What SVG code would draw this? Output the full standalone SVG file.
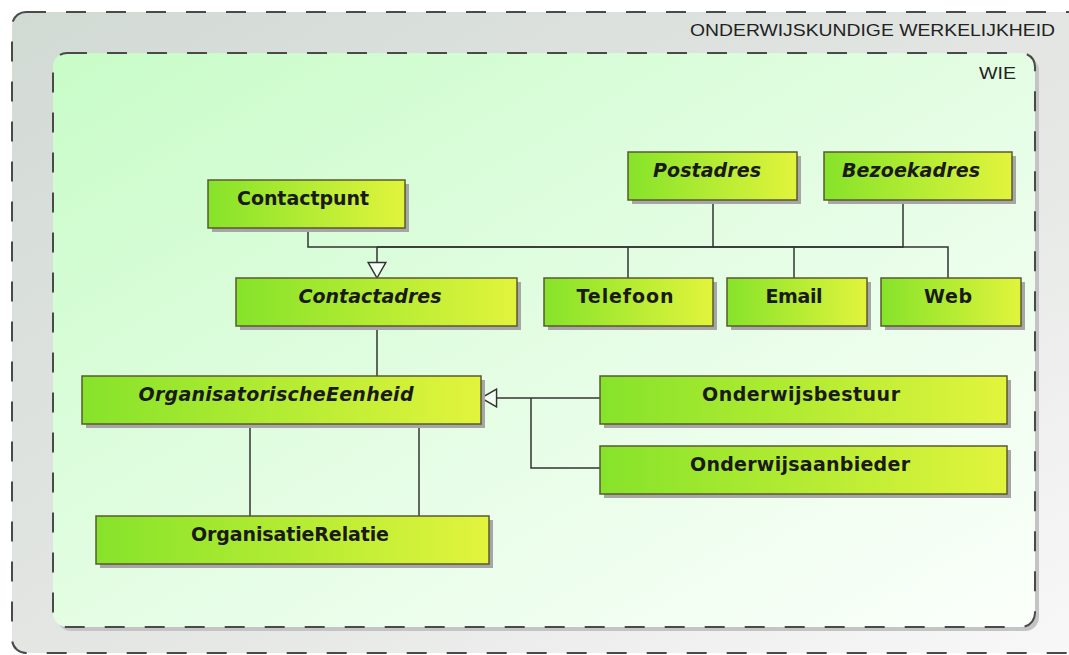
<svg xmlns="http://www.w3.org/2000/svg" width="1069" height="655" viewBox="0 0 1069 655">
<defs>
  <linearGradient id="outerFill" x1="0" y1="0" x2="1" y2="1">
    <stop offset="0" stop-color="#d2dad4"/>
    <stop offset="0.6" stop-color="#e6e8e6"/>
    <stop offset="1" stop-color="#f8f8f8"/>
  </linearGradient>
  <linearGradient id="innerFill" x1="0" y1="0" x2="1" y2="1">
    <stop offset="0" stop-color="#c8fcc8"/>
    <stop offset="0.55" stop-color="#e6fde6"/>
    <stop offset="1" stop-color="#fbfffb"/>
  </linearGradient>
  <linearGradient id="nodeFill" x1="0" y1="0" x2="1" y2="0">
    <stop offset="0" stop-color="#86e32a"/>
    <stop offset="1" stop-color="#e2f43c"/>
  </linearGradient>
  <marker id="gen" markerUnits="userSpaceOnUse" markerWidth="18" markerHeight="20" viewBox="-1 -1 16 18" refX="14" refY="8" orient="auto">
    <path d="M0,0 L14,8 L0,16 Z" fill="#f2fff2" stroke="#333" stroke-width="1.3"/>
  </marker>
</defs>
<style>
  .frame { stroke: #4a4a4a; stroke-width: 2; stroke-dasharray: 20 20; }
  .shadow { fill: #a6a6a6; }
  .box { fill: url(#nodeFill); stroke: #5a5a30; stroke-width: 1.5; }
  .lbl { font-family: "DejaVu Sans", Verdana, sans-serif; font-weight: bold; font-size: 19px; fill: #1a1a1a; text-anchor: middle; }
  .it { font-style: italic; }
  .title { font-family: "Liberation Sans", Arial, sans-serif; font-size: 17px; fill: #222; text-anchor: end; }
  .conn { fill: none; stroke: #333; stroke-width: 1.5; }
</style>

<rect width="1069" height="655" fill="#ffffff"/>

<g id="frame-onderwijskundige-werkelijkheid">
  <rect x="12" y="12" width="1080" height="641" rx="14" fill="url(#outerFill)" class="frame"/>
  <text class="title" x="1055" y="36" textLength="365" lengthAdjust="spacingAndGlyphs">ONDERWIJSKUNDIGE WERKELIJKHEID</text>
</g>

<g id="frame-wie">
  <rect x="57" y="57" width="982" height="574" rx="14" fill="#c4c4c4"/>
  <rect x="53" y="53" width="982" height="574" rx="14" fill="url(#innerFill)" class="frame"/>
  <text class="title" x="1016" y="79" textLength="37" lengthAdjust="spacingAndGlyphs">WIE</text>
</g>

<g id="connectors">
  <path class="conn" d="M308,228 V247 H377 V278" marker-end="url(#gen)"/>
  <path class="conn" d="M713,200 V247 H377"/>
  <path class="conn" d="M903,200 V247 H377"/>
  <path class="conn" d="M628,278 V247"/>
  <path class="conn" d="M794,278 V247"/>
  <path class="conn" d="M948,278 V247 H713"/>
  <path class="conn" d="M377,326 V376"/>
  <path class="conn" d="M600,398 H481" marker-end="url(#gen)"/>
  <path class="conn" d="M600,468 H531 V398"/>
  <path class="conn" d="M250,424 V516"/>
  <path class="conn" d="M419,424 V516"/>
</g>

<g id="node-contactpunt">
  <rect class="shadow" x="212" y="184" width="197" height="48"/>
  <rect class="box" x="208" y="180" width="197" height="48"/>
  <text class="lbl" x="303" y="205" textLength="132">Contactpunt</text>
</g>
<g id="node-postadres">
  <rect class="shadow" x="632" y="156" width="169" height="48"/>
  <rect class="box" x="628" y="152" width="169" height="48"/>
  <text class="lbl it" x="707" y="177" textLength="108">Postadres</text>
</g>
<g id="node-bezoekadres">
  <rect class="shadow" x="828" y="156" width="188" height="48"/>
  <rect class="box" x="824" y="152" width="188" height="48"/>
  <text class="lbl it" x="911" y="177" textLength="138">Bezoekadres</text>
</g>
<g id="node-contactadres">
  <rect class="shadow" x="240" y="282" width="281" height="48"/>
  <rect class="box" x="236" y="278" width="281" height="48"/>
  <text class="lbl it" x="370" y="303" textLength="143">Contactadres</text>
</g>
<g id="node-telefoon">
  <rect class="shadow" x="548" y="282" width="169" height="48"/>
  <rect class="box" x="544" y="278" width="169" height="48"/>
  <text class="lbl" x="625" y="303" textLength="97">Telefoon</text>
</g>
<g id="node-email">
  <rect class="shadow" x="731" y="282" width="140" height="48"/>
  <rect class="box" x="727" y="278" width="140" height="48"/>
  <text class="lbl" x="794" y="303" textLength="57">Email</text>
</g>
<g id="node-web">
  <rect class="shadow" x="885" y="282" width="140" height="48"/>
  <rect class="box" x="881" y="278" width="140" height="48"/>
  <text class="lbl" x="948" y="303" textLength="48">Web</text>
</g>
<g id="node-organisatorischeeenheid">
  <rect class="shadow" x="86" y="380" width="399" height="48"/>
  <rect class="box" x="82" y="376" width="399" height="48"/>
  <text class="lbl it" x="276" y="401" textLength="275">OrganisatorischeEenheid</text>
</g>
<g id="node-onderwijsbestuur">
  <rect class="shadow" x="604" y="380" width="407" height="48"/>
  <rect class="box" x="600" y="376" width="407" height="48"/>
  <text class="lbl" x="801" y="401" textLength="198">Onderwijsbestuur</text>
</g>
<g id="node-onderwijsaanbieder">
  <rect class="shadow" x="604" y="450" width="407" height="48"/>
  <rect class="box" x="600" y="446" width="407" height="48"/>
  <text class="lbl" x="800" y="471" textLength="220">Onderwijsaanbieder</text>
</g>
<g id="node-organisatierelatie">
  <rect class="shadow" x="100" y="520" width="393" height="48"/>
  <rect class="box" x="96" y="516" width="393" height="48"/>
  <text class="lbl" x="290" y="541" textLength="198">OrganisatieRelatie</text>
</g>
</svg>
